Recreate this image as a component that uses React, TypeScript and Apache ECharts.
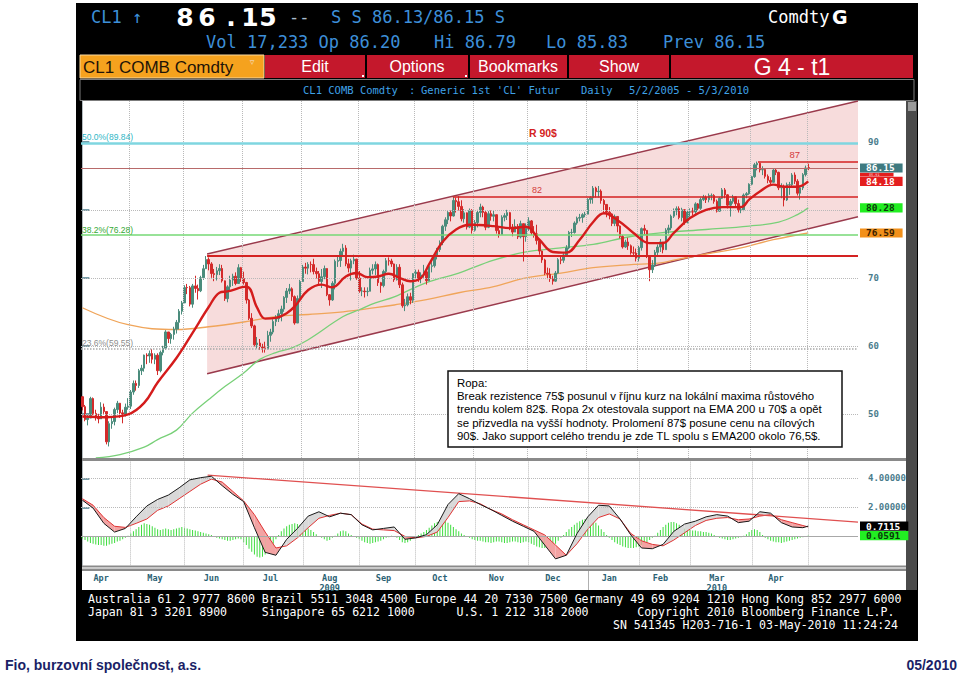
import { useEffect, useRef } from 'react';
import * as echarts from 'echarts';

// ---------- CL1 daily prices, [high, low, close] per trading day ----------
const apr09 = [[52.6,50.5,51.05],[51.3,48.9,49.15],[50.0,48.3,49.38],[52.5,49.5,52.24],[52.4,49.8,50.05],[50.6,49.0,49.41],[50.0,48.6,49.25],[51.7,49.3,50.98],[51.5,50.0,50.33],[50.2,45.5,45.88],[48.9,45.2,48.55],[49.5,47.8,48.86],[50.9,48.3,50.62],[51.9,50.1,51.55],[51.6,49.4,50.14],[50.6,48.6,49.92],[51.5,49.6,50.97],[52.3,50.6,51.12]];
const may09 = [[53.5,50.7,53.20],[54.9,52.8,54.47],[54.9,53.4,54.16],[56.6,53.8,56.34],[57.2,55.7,56.71],[58.7,56.2,58.63],[58.9,57.3,58.50],[59.3,57.5,58.85],[59.5,57.4,58.02],[58.9,57.3,58.62],[58.9,55.7,56.34],[59.3,56.1,59.03],[60.0,58.6,59.65],[62.3,59.4,62.04],[62.0,60.4,61.05],[61.9,60.3,61.67],[62.8,60.9,62.45],[63.8,61.8,63.45],[65.4,62.4,65.08],[66.6,64.6,66.31]];
const jun09 = [[68.9,66.3,68.58],[69.1,67.6,68.55],[68.8,65.8,66.12],[69.1,65.6,68.81],[70.3,67.8,68.44],[69.0,66.8,68.09],[70.3,67.9,70.01],[71.9,69.7,71.33],[73.2,71.3,72.68],[73.0,71.1,72.04],[72.3,70.0,70.62],[71.3,69.5,70.47],[71.6,69.6,71.03],[72.0,70.4,71.37],[71.9,69.3,69.55],[69.6,66.6,66.93],[68.9,66.4,68.67],[70.3,68.0,69.66],[70.6,68.8,70.23],[70.8,68.9,69.16],[72.0,69.4,71.49],[71.6,69.4,69.89]];
const jul09 = [[70.9,69.0,69.31],[69.4,66.2,66.73],[66.9,63.8,64.05],[64.8,62.6,62.93],[63.1,59.9,60.14],[61.3,59.6,60.41],[61.0,59.4,59.89],[60.3,59.0,59.69],[60.6,59.0,59.52],[62.2,59.6,61.54],[62.5,60.6,62.02],[63.9,61.7,63.56],[64.5,62.9,63.98],[65.3,63.5,64.72],[65.9,63.6,65.40],[67.3,65.0,67.12],[68.5,66.3,68.05],[69.1,67.6,68.38],[68.6,66.6,67.23],[67.4,63.1,63.35],[67.4,63.5,66.94],[69.7,66.7,69.45]];
const aug09 = [[71.9,69.4,71.58],[72.2,70.6,71.42],[72.3,70.5,71.97],[72.4,70.8,71.94],[72.8,70.5,70.93],[71.5,69.9,70.60],[71.0,68.9,69.45],[71.3,68.5,70.16],[71.8,69.8,71.36],[71.4,67.3,67.51],[67.6,65.9,66.75],[69.5,66.6,69.19],[72.7,68.3,72.42],[73.3,71.6,72.54],[74.3,71.6,73.89],[75.0,73.2,74.37],[74.8,71.7,72.05],[72.8,70.8,71.43],[72.8,69.6,72.49],[73.4,72.0,72.74],[72.8,69.7,69.96]];
const sep09 = [[71.0,67.8,68.05],[68.6,67.3,68.05],[68.6,67.1,67.96],[68.6,67.3,68.02],[71.5,68.5,71.10],[72.0,70.5,71.31],[72.4,70.4,71.94],[72.1,68.8,69.29],[69.4,67.8,68.86],[71.2,68.6,70.93],[72.9,70.5,72.51],[73.0,71.8,72.47],[72.8,71.6,72.04],[72.1,69.4,69.71],[72.0,69.6,71.55],[72.0,68.5,68.97],[69.3,65.6,65.89],[66.9,65.1,66.02],[67.7,65.8,67.22],[67.8,66.1,66.71],[70.7,66.3,70.61]];
const oct09 = [[71.2,69.9,70.82],[71.2,69.4,69.95],[70.8,69.2,70.41],[71.9,70.0,70.88],[71.2,69.0,69.57],[71.9,69.5,71.69],[72.3,70.8,71.77],[73.6,71.5,73.27],[74.4,72.7,74.15],[75.5,73.8,75.18],[77.8,74.8,77.58],[78.9,76.9,78.53],[79.8,77.9,79.61],[79.9,78.3,79.09],[82.0,79.0,81.37],[81.8,79.6,81.19],[82.0,79.9,80.50],[81.4,78.3,78.68],[80.1,78.1,79.55],[79.6,77.1,77.46],[80.2,77.3,79.87],[80.1,76.5,77.00]];
const nov09 = [[78.5,76.8,78.13],[80.0,77.4,79.60],[80.9,78.9,80.40],[80.6,78.9,79.62],[79.8,77.0,77.43],[79.8,77.3,79.43],[79.9,78.4,79.05],[79.9,78.3,79.28],[79.3,76.5,76.94],[77.4,75.9,76.35],[79.2,76.6,78.90],[79.5,78.3,79.14],[80.0,78.5,79.58],[79.7,77.0,77.46],[77.9,76.1,76.72],[78.6,76.8,77.56],[77.9,75.7,76.02],[78.4,75.8,77.96],[77.9,72.4,76.05],[78.0,75.3,77.28]];
const dec09 = [[78.9,76.9,78.37],[78.5,76.3,76.60],[77.6,75.9,76.46],[77.8,74.9,75.47],[75.6,73.4,73.93],[74.0,72.2,72.62],[72.8,70.4,70.67],[71.5,69.8,70.54],[71.4,69.4,69.87],[70.3,69.0,69.51],[71.0,69.4,70.69],[72.9,70.6,72.66],[73.2,72.0,72.58],[73.6,72.2,73.36],[74.8,73.1,74.40],[76.9,74.2,76.67],[77.2,76.0,76.67],[78.3,76.5,78.05],[79.0,77.8,78.77],[79.4,78.3,78.87],[79.5,78.1,79.28],[79.7,78.9,79.36]];
const jan10 = [[81.7,79.6,81.51],[82.0,80.9,81.77],[83.5,80.9,83.18],[83.4,81.8,82.66],[83.5,81.8,82.75],[83.0,80.9,81.37],[81.6,79.6,80.79],[80.7,78.9,79.65],[80.4,78.6,79.39],[79.5,77.6,78.00],[79.3,77.6,79.02],[79.0,76.7,77.62],[77.7,75.8,76.08],[76.3,74.3,74.54],[75.6,74.4,75.26],[75.9,74.1,74.71],[74.9,73.4,73.67],[74.6,73.1,73.64],[74.3,72.4,72.89]];
const feb10 = [[74.7,72.4,74.43],[77.4,74.0,77.23],[77.8,76.4,76.98],[77.0,72.9,73.14],[73.3,69.5,71.19],[72.6,70.7,71.89],[74.1,71.6,73.75],[74.9,73.1,74.52],[75.7,73.8,75.28],[75.3,73.6,74.13],[77.3,74.2,77.01],[77.8,76.5,77.33],[79.3,77.0,79.06],[80.2,78.8,79.81],[80.5,79.2,80.16],[80.5,78.6,78.86],[80.3,78.3,80.00],[80.1,77.8,78.17],[80.0,78.0,79.66]];
const mar10 = [[80.2,79.0,79.70],[80.3,79.2,79.68],[81.1,79.4,80.87],[81.0,79.9,80.21],[81.8,80.0,81.50],[82.2,81.3,81.87],[82.1,81.0,81.49],[82.4,81.1,82.09],[82.4,81.4,82.11],[82.3,80.9,81.24],[81.5,79.6,79.80],[81.9,79.7,81.70],[83.2,81.6,82.93],[83.2,81.7,82.20],[82.3,80.2,80.68],[81.6,79.0,81.25],[82.2,80.9,81.91],[82.0,80.4,80.91],[81.5,79.6,80.00],[80.6,79.5,80.00],[82.4,79.8,82.17],[82.6,81.7,82.37],[83.9,82.2,83.76]];
const apr10 = [[85.0,83.6,84.87],[86.9,84.7,86.62],[87.1,85.8,86.84],[86.9,85.5,85.88],[86.4,85.1,85.92],[86.0,84.6,84.92],[85.2,83.9,84.34],[84.8,83.6,84.05],[86.0,84.0,85.84],[86.1,85.1,85.51],[85.6,82.9,83.24],[83.9,81.7,83.45],[83.7,80.5,81.45],[84.0,81.3,83.68],[84.1,82.2,83.70],[85.4,83.4,85.12],[85.5,83.8,84.20],[84.5,82.1,82.44],[83.6,81.5,83.22],[85.4,82.9,85.17],[86.5,84.9,86.15]];
const may10 = [[86.79,85.83,86.15]];
const PREV_CLOSE = 52.51;
const LAST_OPEN = 86.2;

// ---------- moving averages, [day index, value] ----------
const redEma = [[0,49.6],[9,49.5],[17,49.9],[23,51.6],[28,54.6],[35,58.2],[41,61.9],[47,65.7],[51,67.8],[54,68.0],[61,68.7],[65,65.6],[68,64.0],[72,64.1],[76,64.8],[79,65.8],[84,68.2],[89,69.0],[93,68.6],[98,70.2],[102,70.7],[106,70.1],[110,70.2],[114,70.6],[118,70.0],[122,69.5],[126,70.0],[129,72.0],[134,75.3],[139,77.1],[144,77.8],[153,77.6],[159,77.3],[165,77.5],[170,75.6],[175,73.8],[180,73.7],[185,75.6],[190,78.2],[194,79.5],[200,78.2],[205,76.6],[211,75.1],[216,75.1],[220,76.6],[226,78.8],[232,80.0],[238,80.4],[245,80.4],[248,81.5],[252,82.7],[257,83.7],[261,83.4],[266,83.4],[270,84.18]];
const greenEma = [[5,43.5],[14,44.0],[23,45.1],[28,46.2],[35,47.6],[41,50.1],[47,52.1],[53,54.0],[60,56.0],[66,58.0],[72,59.0],[78,59.7],[84,60.9],[97,64.3],[103,65.3],[109,66.3],[116,67.2],[128,69.3],[140,70.7],[153,72.6],[165,73.8],[178,74.4],[190,74.9],[203,76.0],[215,76.6],[232,77.1],[248,77.6],[259,78.2],[266,79.3],[270,80.28]];
const orangeEma = [[0,65.6],[17,63.1],[35,62.4],[47,62.8],[60,63.5],[72,64.3],[84,64.6],[97,65.0],[109,65.6],[116,66.0],[128,66.8],[140,67.8],[153,68.7],[165,70.0],[178,70.7],[190,71.5],[203,71.9],[215,72.2],[220,72.6],[232,73.5],[245,74.4],[257,75.6],[270,76.59]];

// ---------- MACD (read every 4th day) ----------
const macdIdx = [0,4,8,12,16,20,24,28,32,36,40,44,48,52,56,60,64,68,72,76,80,84,88,92,96,100,104,108,112,116,120,124,128,132,136,140,144,148,152,156,160,164,168,172,176,180,184,188,192,196,200,204,208,212,216,220,224,228,232,236,240,244,248,252,256,260,264,268,270];
const macdLine = [2.5,1.95,0.9,0.3,0.55,1.35,2.1,2.55,2.85,3.35,3.9,4.05,4.15,3.5,2.9,2.4,0.6,-1.1,-1.3,-0.2,0.55,1.4,1.7,1.35,1.6,1.5,0.8,0.45,0.55,0.65,-0.2,-0.1,0.12,0.8,2.2,2.95,2.6,2.2,1.85,1.45,1.05,0.7,0.35,-0.6,-1.55,-1.3,0.2,1.35,2.15,2.1,1.2,0.1,-0.8,-0.85,-0.55,0.35,0.85,1.05,1.35,1.5,1.4,0.95,1.05,1.7,1.6,0.95,0.65,0.6,0.71];
const signalLine = [2.6,2.15,1.3,0.7,0.62,0.9,1.2,1.8,2.1,2.6,3.1,3.6,3.95,3.75,3.1,2.45,1.5,0.3,-0.8,-0.65,-0.1,0.6,1.25,1.45,1.6,1.5,0.85,0.5,0.45,0.4,0.0,-0.1,0.0,0.3,1.3,2.4,2.45,2.25,1.85,1.55,1.15,0.8,0.45,0.1,-0.6,-1.3,-0.5,0.5,1.3,1.55,1.2,0.2,-0.3,-0.55,-0.65,-0.25,0.25,0.75,1.1,1.25,1.3,1.15,1.2,1.4,1.5,1.15,0.95,0.75,0.65];
const histApr09 = [-0.15,-0.25,-0.35,-0.45,-0.5,-0.55,-0.6,-0.6,-0.65,-0.65,-0.55,-0.5,-0.45,-0.35,-0.3,-0.2,-0.1,0.05];
const histMay09 = [0.2,0.35,0.5,0.65,0.8,0.9,0.85,0.8,0.7,0.6,0.5,0.45,0.5,0.55,0.5,0.45,0.5,0.55,0.6,0.65];
const histJun09 = [0.6,0.55,0.5,0.45,0.4,0.35,0.3,0.25,0.2,0.15,0.1,0.0,-0.1,-0.15,-0.2,-0.25,-0.3,-0.3,-0.25,-0.2,-0.15,-0.2];
const histJul09 = [-0.4,-0.6,-0.85,-1.05,-1.25,-1.4,-1.45,-1.4,-1.25,-1.05,-0.8,-0.5,-0.2,0.1,0.35,0.55,0.7,0.8,0.85,0.9,0.85,0.8];
const histAug09 = [0.75,0.65,0.55,0.45,0.3,0.15,0.0,-0.1,-0.2,-0.3,-0.25,-0.1,0.05,0.2,0.35,0.4,0.35,0.2,0.1,0.0,-0.1];
const histSep09 = [-0.2,-0.3,-0.4,-0.45,-0.5,-0.45,-0.4,-0.35,-0.3,-0.2,-0.1,-0.05,0.05,0.0,-0.1,-0.25,-0.4,-0.45,-0.4,-0.3,-0.15];
const histOct09 = [0.0,0.1,0.2,0.3,0.45,0.6,0.75,0.9,1.0,1.05,1.1,1.05,0.95,0.8,0.65,0.5,0.35,0.2,0.1,0.0,-0.1,-0.2];
const histNov09 = [-0.25,-0.3,-0.3,-0.35,-0.4,-0.4,-0.45,-0.4,-0.35,-0.35,-0.4,-0.45,-0.45,-0.4,-0.35,-0.35,-0.4,-0.45,-0.4,-0.35];
const histDec09 = [-0.4,-0.5,-0.6,-0.7,-0.75,-0.8,-0.8,-0.8,-0.75,-0.65,-0.5,-0.3,-0.1,0.1,0.3,0.5,0.65,0.8,0.95,1.05,1.15,1.2];
const histJan10 = [1.25,1.2,1.1,0.95,0.75,0.5,0.3,0.1,-0.1,-0.25,-0.4,-0.5,-0.6,-0.7,-0.75,-0.8,-0.8,-0.8,-0.75];
const histFeb10 = [-0.7,-0.6,-0.5,-0.4,-0.25,-0.1,0.05,0.25,0.45,0.65,0.8,0.95,1.0,1.0,0.9,0.8,0.65,0.55,0.5];
const histMar10 = [0.45,0.4,0.4,0.35,0.35,0.3,0.3,0.25,0.2,0.1,0.0,-0.1,-0.15,-0.2,-0.25,-0.25,-0.2,-0.15,-0.1,-0.05,0.05,0.15,0.3];
const histApr10 = [0.45,0.5,0.45,0.3,0.1,-0.1,-0.2,-0.3,-0.35,-0.4,-0.4,-0.45,-0.4,-0.35,-0.3,-0.25,-0.2,-0.15,-0.1,-0.05,0.02];
const histMay10 = [0.06];

// ---------- annotations ----------
const channelTop = [[46.4, 73.5], [288.5, 96.0]];
const channelBottom = [[46.4, 55.9], [288.5, 78.97]];
const resistance75 = [[46.4, 73.3], [288.5, 73.3]];
const level82 = [[137.8, 81.9], [288.5, 81.9]];
const level87 = [[251.3, 87.06], [288.5, 87.06]];
const macdTrend = [[46.6, 4.23], [288.5, 0.99]];
const fibLevels = [
  { v: 89.84, label: '50.0%(89.84)', color: '#7fd6e0', text: '#2fb6c6', width: 2.5, type: 'solid' },
  { v: 76.28, label: '38.2%(76.28)', color: '#76d876', text: '#35a835', width: 1.5, type: 'solid' },
  { v: 59.55, label: '23.6%(59.55)', color: '#a9a9a9', text: '#8e8e8e', width: 1.5, type: 'dotted' },
];
const priceTicks = [50, 60, 70, 80, 90];
const priceLabels = [50, 60, 70, 90];
const macdTicks = [2, 4];
const monthNames = ['Apr', 'May', 'Jun', 'Jul', 'Aug', 'Sep', 'Oct', 'Nov', 'Dec', 'Jan', 'Feb', 'Mar', 'Apr'];
const monthLabelIdx = [7, 27, 48, 70, 92, 112, 133, 154, 175, 196, 215, 236, 258];
const yearLabels: Record<number, string> = { 4: '2009', 11: '2010' };
const N_CATS = 289;

const MONO = '"DejaVu Sans Mono", monospace';
const ARIAL = '"Liberation Sans", Arial, sans-serif';
const BLUE = '#3d8fd8';

function buildOption() {
  const months = [apr09, may09, jun09, jul09, aug09, sep09, oct09, nov09, dec09, jan10, feb10, mar10, apr10, may10];
  const hist = [histApr09, histMay09, histJun09, histJul09, histAug09, histSep09, histOct09, histNov09, histDec09, histJan10, histFeb10, histMar10, histApr10, histMay10].flat();
  const candles: number[][] = [];
  const monthStarts: number[] = [];
  let prev = PREV_CLOSE;
  months.forEach((m, mi) => {
    if (mi > 0) monthStarts.push(candles.length);
    m.forEach(([h, l, c], di) => {
      const o = mi === months.length - 1 && di === 0 ? LAST_OPEN : prev;
      candles.push([o, c, Math.min(l, o, c), Math.max(h, o, c)]);
      prev = c;
    });
  });
  const cats = Array.from({ length: N_CATS }, (_, i) => 'd' + i);

  const grey = { color: '#b9b9b9', type: 'dotted', width: 1 };
  const noLabel = { show: false };
  const vGrid = monthStarts.map((s) => ({ xAxis: s - 0.5, lineStyle: grey, label: noLabel }));

  const tag = (v: number, text: string, bg: string, fg: string, showLine = false, small = false) => ({
    yAxis: v,
    lineStyle: showLine ? { color: '#b86a6a', width: 1, type: 'solid' } : { color: 'rgba(0,0,0,0)', width: 1 },
    label: {
      show: true, position: 'end', formatter: text, backgroundColor: bg, color: fg,
      padding: small ? [0, 14, 0, 9] : [0, 8, 0, 6],
      fontSize: small ? 3.5 : 9.5, lineHeight: small ? 3.6 : 9.2,
      fontWeight: 'bold', fontFamily: MONO, distance: 2,
    },
  });

  const seg = (pts: number[][], color: string, width: number) => [
    { coord: pts[0], lineStyle: { color, width, type: 'solid' }, label: noLabel },
    { coord: pts[1] },
  ];

  const mainMarkLines = [
    ...priceTicks.filter((t) => t !== 90).map((t) => ({ yAxis: t, lineStyle: grey, label: noLabel })),
    ...vGrid,
    ...fibLevels.map((f) => ({
      yAxis: f.v,
      lineStyle: { color: f.color, width: f.width, type: f.type },
      label: { show: true, position: 'insideStartTop', formatter: f.label, color: f.text, fontSize: 8.5, fontFamily: ARIAL, distance: 1 },
    })),
    seg(resistance75, '#d42222', 2),
    seg(level82, '#d42222', 1.6),
    seg(level87, '#d42222', 1.6),
    tag(85.18, '85.91', '#e41e1e', '#f6b0b0', false, true),
    tag(86.15, '86.15', '#3e7a80', '#fff', true),
    tag(84.18, '84.18', '#e41e1e', '#fff'),
    tag(80.28, '80.28', '#22ee22', '#0a3a0a'),
    tag(76.59, '76.59', '#f2901a', '#3a2000'),
  ];

  const T = (text: string, x: number, y: number, font: string, fill: string, align = 'left', extra: any = {}) => ({
    type: 'text', x, y, z: 30, silent: true,
    style: { text, font, fill, align, verticalAlign: 'middle' }, ...extra,
  });
  const R = (x: number, y: number, w: number, h: number, fill: string, z = -5, stroke?: string) => ({
    type: 'rect', z, silent: true, shape: { x, y, width: w, height: h },
    style: stroke ? { fill, stroke, lineWidth: 1 } : { fill },
  });

  const bigDigits = [['8', 185], ['6', 207], ['.', 231], ['1', 250], ['5', 268]] as [string, number][];
  const noteLines = [
    'Ropa:',
    'Break rezistence 75$ posunul v říjnu kurz na lokální maxima růstového',
    'trendu kolem 82$. Ropa 2x otestovala support na EMA 200 u 70$ a opět',
    'se přizvedla na vyšší hodnoty. Prolomení 87$ posune cenu na cílových',
    '90$. Jako support celého trendu je zde TL spolu s EMA200 okolo 76,5$.',
  ];

  const graphic: any[] = [
    R(76, 3, 842, 638, '#000', -20),
    R(82, 101, 824, 489, '#fff', -19),
    R(906, 101, 11, 489, '#4b4b4b', -18),
    R(908, 102, 8, 9, '#9a9a9a', -17),
    // header rows 1 & 2
    T('CL1 ↑', 91, 17, `17px ${MONO}`, BLUE),
    ...bigDigits.map(([c, x]) => T(c, x, 17, `bold 25px "DejaVu Sans", sans-serif`, '#ffffff', 'center')),
    T('--', 289, 17, `17px ${MONO}`, '#a9bccc'),
    T('S S 86.13/86.15 S', 331, 17, `17px ${MONO}`, BLUE),
    T('Comdty', 768, 17, `17px ${MONO}`, '#ffffff'),
    T('G', 832, 17, `bold 19px "DejaVu Sans", sans-serif`, '#ffffff'),
    T('Vol 17,233 Op 86.20', 206, 42, `17px ${MONO}`, BLUE),
    T('Hi 86.79', 434, 42, `17px ${MONO}`, BLUE),
    T('Lo 85.83', 546, 42, `17px ${MONO}`, BLUE),
    T('Prev 86.15', 663, 42, `17px ${MONO}`, BLUE),
    // row 3 buttons
    R(80, 55, 184, 23, '#f5a21e', -5, '#f9d9a0'),
    T('CL1 COMB Comdty', 83, 67, `17px ${ARIAL}`, '#1e1408'),
    T('▿', 252, 62, `12px ${MONO}`, '#f4d2a6', 'center'),
    R(265, 55, 100, 23, '#c4182c'),
    R(367, 55, 101, 23, '#c4182c'),
    R(470, 55, 97, 23, '#c4182c'),
    R(569, 55, 100, 23, '#c4182c'),
    R(671, 55, 242, 23, '#c4182c'),
    T('Edit', 315, 66, `16px ${ARIAL}`, '#fff', 'center'),
    T('Options', 417, 66, `16px ${ARIAL}`, '#fff', 'center'),
    T('Bookmarks', 518, 66, `16px ${ARIAL}`, '#fff', 'center'),
    T('Show', 619, 66, `16px ${ARIAL}`, '#fff', 'center'),
    T('G 4 - t1', 792, 67, `23px ${ARIAL}`, '#fff', 'center'),
    R(362, 75, 2, 2, '#fff', -4),
    R(465, 75, 2, 2, '#fff', -4),
    // row 4
    R(80, 79.5, 834, 21, '#000', -6, '#7c7c7c'),
    T('CL1 COMB Comdty', 303, 89.5, `10.5px ${MONO}`, '#3fa2e8'),
    T(':', 409, 89.5, `10.5px ${MONO}`, '#3fa2e8'),
    T("Generic 1st 'CL' Futur", 421, 89.5, `10.5px ${MONO}`, '#3fa2e8'),
    T('Daily', 581, 89.5, `10.5px ${MONO}`, '#3fa2e8'),
    T('5/2/2005 - 5/3/2010', 629, 89.5, `10.5px ${MONO}`, '#3fa2e8'),
    // panel separators
    R(82, 458, 824, 3, '#8a8a8a', 5),
    R(82, 565.5, 824, 2, '#8a8a8a', 5),
    R(82, 567.5, 824, 1.2, '#d0d0d0', 5),
    R(82, 568.7, 824, 2.3, '#8a8a8a', 5),
    { type: 'line', z: 5, silent: true, shape: { x1: 588.5, y1: 571, x2: 588.5, y2: 590 }, style: { stroke: '#b0b0b0', lineWidth: 1 } },
    // Bloomberg footer
    T('Australia 61 2 9777 8600 Brazil 5511 3048 4500 Europe 44 20 7330 7500 Germany 49 69 9204 1210 Hong Kong 852 2977 6000', 88, 599, `11.55px ${MONO}`, '#fff'),
    T('Japan 81 3 3201 8900     Singapore 65 6212 1000      U.S. 1 212 318 2000       Copyright 2010 Bloomberg Finance L.P.', 88, 612, `11.55px ${MONO}`, '#fff'),
    T('SN 541345 H203-716-1 03-May-2010 11:24:24', 898, 624.5, `11.55px ${MONO}`, '#fff', 'right'),
    // page footer
    T('Fio, burzovní společnost, a.s.', 5, 665, `bold 14px ${ARIAL}`, '#1b1f66'),
    T('05/2010', 957, 665, `bold 14px ${ARIAL}`, '#1b1f66', 'right'),
    // comment box
    { type: 'rect', z: 40, silent: true, shape: { x: 448, y: 371, width: 394, height: 76 }, style: { fill: '#fff', stroke: '#111', lineWidth: 1.5 } },
    ...noteLines.map((t, i) => ({ ...T(t, 457, 383 + i * 13.2, `11.4px ${ARIAL}`, '#000'), z: 41 })),
  ];

  const fillColor = (d: number) => (d >= 0 ? '#d9d9d9' : '#f3a3a3');

  return {
    animation: false,
    backgroundColor: '#ffffff',
    graphic,
    grid: [
      { left: 81, top: 101, width: 777, height: 357 },
      { left: 81, top: 461, width: 777, height: 104.4 },
    ],
    xAxis: [
      { type: 'category', gridIndex: 0, data: cats, show: false, boundaryGap: true },
      { type: 'value', gridIndex: 0, min: -0.5, max: N_CATS - 0.5, show: false },
      {
        type: 'category', gridIndex: 1, data: cats, boundaryGap: true,
        axisLine: { show: false }, axisTick: { show: false }, splitLine: { show: false },
        axisLabel: {
          show: true, interval: 0, margin: 8, color: '#2c6274', fontSize: 8.5, fontWeight: 'bold', fontFamily: MONO, lineHeight: 10,
          formatter: (_v: string, idx: number) => {
            const k = monthLabelIdx.indexOf(idx);
            if (k < 0) return '';
            return yearLabels[k] ? `${monthNames[k]}\n${yearLabels[k]}` : monthNames[k];
          },
        },
      },
      { type: 'value', gridIndex: 1, min: -0.5, max: N_CATS - 0.5, show: false },
    ],
    yAxis: [
      {
        type: 'value', gridIndex: 0, position: 'right', min: 43.5, max: 96, scale: true,
        splitLine: { show: false },
        axisLine: { show: true, lineStyle: { color: '#b4bcc0' } },
        axisTick: { show: true, customValues: priceTicks, length: 7, lineStyle: { color: '#4a7c8c', width: 1.5 } },
        axisLabel: { customValues: priceLabels, margin: 10, color: '#4a7c8c', fontSize: 9, fontWeight: 'bold', fontFamily: MONO },
      },
      {
        type: 'value', gridIndex: 1, position: 'right', min: -2.0, max: 5.2, scale: true,
        splitLine: { show: false },
        axisLine: { show: true, lineStyle: { color: '#b4bcc0' } },
        axisTick: { show: true, customValues: macdTicks, length: 7, lineStyle: { color: '#4a7c8c', width: 1.5 } },
        axisLabel: { customValues: macdTicks, margin: 10, color: '#4a7c8c', fontSize: 9, fontWeight: 'bold', fontFamily: MONO, formatter: (v: number) => v.toFixed(5) },
      },
    ],
    series: [
      {
        type: 'custom', xAxisIndex: 1, yAxisIndex: 0, z: 1, silent: true, data: [[0, 60]],
        renderItem: (_p: any, api: any) => {
          const p = [channelTop[0], channelTop[1], channelBottom[1], channelBottom[0]].map((d) => api.coord(d));
          return {
            type: 'group',
            children: [
              { type: 'polygon', shape: { points: p }, style: { fill: 'rgba(222,110,110,0.24)' } },
              { type: 'line', shape: { x1: p[0][0], y1: p[0][1], x2: p[1][0], y2: p[1][1] }, style: { stroke: '#9a3a4c', lineWidth: 1.5 } },
              { type: 'line', shape: { x1: p[3][0], y1: p[3][1], x2: p[2][0], y2: p[2][1] }, style: { stroke: '#9a3a4c', lineWidth: 1.5 } },
            ],
          };
        },
      },
      {
        type: 'line', xAxisIndex: 1, yAxisIndex: 0, z: 3, data: orangeEma, smooth: 0.4, symbol: 'none', silent: true,
        lineStyle: { color: '#f0a55a', width: 1.3 },
        markLine: { silent: true, symbol: ['none', 'none'], label: noLabel, animation: false, data: mainMarkLines },
        markPoint: {
          silent: true, symbol: 'circle', symbolSize: 0,
          data: [
            { coord: [171.3, 91.3], label: { show: true, formatter: 'R 90$', color: '#d42222', fontWeight: 'bold', fontSize: 10.5, fontFamily: ARIAL } },
            { coord: [169.1, 82.9], label: { show: true, formatter: '82', color: '#d43a3a', fontSize: 9, fontFamily: ARIAL } },
            { coord: [265.0, 88.2], label: { show: true, formatter: '87', color: '#d43a3a', fontSize: 9.5, fontFamily: ARIAL } },
          ],
        },
      },
      {
        type: 'line', xAxisIndex: 1, yAxisIndex: 0, z: 3, data: greenEma, smooth: 0.4, symbol: 'none', silent: true,
        lineStyle: { color: '#78d078', width: 1.3 },
      },
      {
        type: 'candlestick', xAxisIndex: 0, yAxisIndex: 0, z: 4, data: candles, barWidth: 2, silent: true,
        itemStyle: { color: '#4b8c7c', color0: '#d42a2a', borderColor: '#4b8c7c', borderColor0: '#d42a2a', borderWidth: 1 },
      },
      {
        type: 'line', xAxisIndex: 1, yAxisIndex: 0, z: 5, data: redEma, smooth: 0.4, symbol: 'none', silent: true,
        lineStyle: { color: '#d41c1c', width: 2.4 },
      },
      // MACD panel
      {
        type: 'bar', xAxisIndex: 2, yAxisIndex: 1, z: 2, data: hist, barWidth: 1, silent: true,
        itemStyle: { color: '#3fdc3f' },
        markLine: {
          silent: true, symbol: ['none', 'none'], label: noLabel,
          data: [
            ...vGrid,
            { yAxis: 4, lineStyle: grey, label: noLabel },
            { yAxis: 2, lineStyle: grey, label: noLabel },
            { yAxis: 0, lineStyle: { color: '#a8a8a8', width: 1, type: 'solid' }, label: noLabel },
          ],
        },
      },
      {
        type: 'custom', xAxisIndex: 3, yAxisIndex: 1, z: 3, silent: true,
        data: macdIdx.slice(0, -1).map((x, i) => [x, macdLine[i]]),
        renderItem: (params: any, api: any) => {
          const i = params.dataIndex;
          const x0 = macdIdx[i], x1 = macdIdx[i + 1];
          const b0 = macdLine[i], b1 = macdLine[i + 1], r0 = signalLine[i], r1 = signalLine[i + 1];
          const d0 = b0 - r0, d1 = b1 - r1;
          const poly = (pts: number[][], d: number) => ({
            type: 'polygon', shape: { points: pts.map((p) => api.coord(p)) }, style: { fill: fillColor(d) },
          });
          if (d0 * d1 < 0) {
            const t = d0 / (d0 - d1);
            const xc = x0 + t * (x1 - x0);
            const yc = b0 + t * (b1 - b0);
            return { type: 'group', children: [poly([[x0, b0], [xc, yc], [x0, r0]], d0), poly([[xc, yc], [x1, b1], [x1, r1]], d1)] };
          }
          return poly([[x0, b0], [x1, b1], [x1, r1], [x0, r0]], d0 + d1);
        },
      },
      {
        type: 'line', xAxisIndex: 3, yAxisIndex: 1, z: 4, data: macdIdx.map((x, i) => [x, signalLine[i]]), symbol: 'none', silent: true,
        lineStyle: { color: '#e03434', width: 1 },
        markLine: {
          silent: true, symbol: ['none', 'none'], label: noLabel,
          data: [
            seg(macdTrend, '#e05050', 1.3),
            tag(0.7115, '0.7115', '#000000', '#ffffff'),
            tag(0.0591, '0.0591', '#22ee22', '#0a3a0a'),
          ],
        },
      },
      {
        type: 'line', xAxisIndex: 3, yAxisIndex: 1, z: 5, data: macdIdx.map((x, i) => [x, macdLine[i]]), symbol: 'none', silent: true,
        lineStyle: { color: '#1a1a1a', width: 1 },
      },
    ],
  };
}

export default function App() {
  const ref = useRef<HTMLDivElement>(null);
  useEffect(() => {
    const chart = echarts.init(ref.current!, null, { renderer: 'svg' });
    chart.setOption(buildOption() as any);
    return () => chart.dispose();
  }, []);
  return <div ref={ref} style={{ position: 'absolute', left: 0, top: 0, width: 960, height: 678 }} />;
}
